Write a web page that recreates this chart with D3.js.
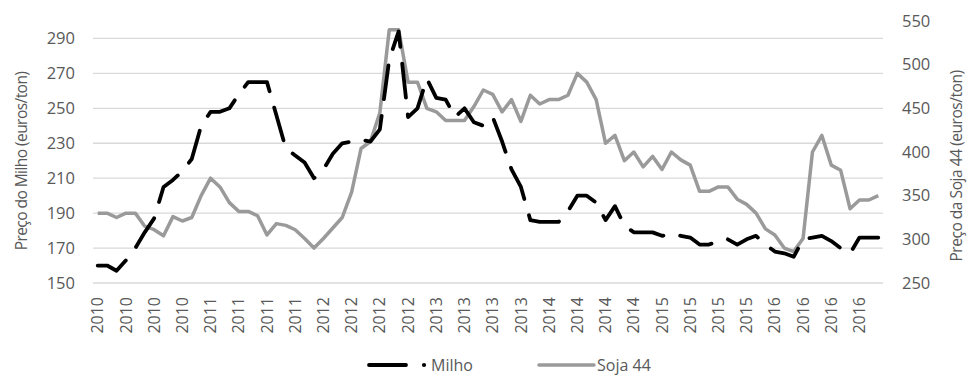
<!DOCTYPE html>
<html>
<head>
<meta charset="utf-8">
<script src="https://cdn.jsdelivr.net/npm/d3@7"></script>
<style>
  html, body { margin: 0; padding: 0; background: #fff; }
  svg { display: block; font-family: "Open Sans", "Noto Sans", sans-serif; }
</style>
</head>
<body>
<svg id="chart" width="968" height="376"></svg>
<script>
// Monthly prices, Jan 2010 – Dec 2016 (84 months)
const milho = [
  160, 160, 157, 163, 170, 179, 187, 205, 209, 214, 221, 240,
  248, 248, 250, 258, 265, 265, 265, 246, 227, 223, 219, 210,
  215, 224, 230, 231, 232, 231, 238, 278, 294, 245, 250, 267,
  256, 255, 245, 250, 242, 240, 245, 231, 215, 205, 186, 185,
  185, 185, 191, 200, 200, 196, 186, 194, 183, 179, 179, 179,
  177, 178, 177, 176, 172, 172, 174, 175, 172, 175, 177, 172,
  168, 167, 165, 175, 176, 177, 174, 170, 167, 176, 176, 176
];
const soja = [
  330, 330, 325, 330, 330, 315, 311, 304, 326, 321, 325, 350,
  370, 360, 342, 332, 332, 327, 305, 318, 316, 311, 301, 290,
  301, 313, 325, 354, 404, 412, 445, 540, 540, 480, 480, 450,
  446, 436, 436, 436, 452, 471, 466, 446, 460, 435, 465, 455,
  460, 460, 465, 490, 480, 460, 410, 419, 390, 400, 383, 395,
  380, 400, 391, 385, 355, 355, 360, 360, 346, 340, 330, 312,
  305, 290, 286, 301, 400, 419, 385, 379, 335, 345, 345, 350
];
// One label for every third month
const tickLabels = [
  "2010", "2010", "2010", "2010", "2011", "2011", "2011",
  "2011", "2012", "2012", "2012", "2012", "2013", "2013",
  "2013", "2013", "2014", "2014", "2014", "2014", "2015",
  "2015", "2015", "2015", "2016", "2016", "2016", "2016"
];
const leftTicks = [150, 170, 190, 210, 230, 250, 270, 290];
const rightTicks = [250, 300, 350, 400, 450, 500, 550];
const seriesNames = ["Milho", "Soja 44"];
const leftTitle = "Preço do Milho (euros/ton)";
const rightTitle = "Preço da Soja 44 (euros/ton)";

const textColor = "#595959";
const gridColor = "#d9d9d9";
const milhoColor = "#000000";
const sojaColor = "#9a9a9a";
const milhoDash = "34,17";
const fontStack = "Open Sans, Noto Sans, sans-serif";

const svg = d3.select("#chart");
const plot = { left: 93, right: 883, top: 21, bottom: 283 };

const x = d3.scaleBand()
  .domain(d3.range(milho.length))
  .range([plot.left, plot.right]);
const cx = i => x(i) + x.bandwidth() / 2;

const yL = d3.scaleLinear().domain([150, 300]).range([plot.bottom, plot.top]);
const yR = d3.scaleLinear().domain([250, 550]).range([plot.bottom, plot.top]);

// Horizontal gridlines from the left axis
svg.append("g")
  .selectAll("line")
  .data(leftTicks)
  .join("line")
  .attr("x1", plot.left).attr("x2", plot.right)
  .attr("y1", d => yL(d)).attr("y2", d => yL(d))
  .attr("stroke", gridColor).attr("stroke-width", 1.3);

// Left axis
const axL = svg.append("g")
  .attr("transform", `translate(${plot.left - 18},0)`)
  .call(d3.axisLeft(yL).tickValues(leftTicks).tickSize(0).tickPadding(0));
axL.select(".domain").remove();
axL.selectAll("text")
  .attr("fill", textColor).attr("font-size", 16.5)
  .attr("font-family", fontStack);

// Right axis
const axR = svg.append("g")
  .attr("transform", `translate(${plot.right + 19},0)`)
  .call(d3.axisRight(yR).tickValues(rightTicks).tickSize(0).tickPadding(0));
axR.select(".domain").remove();
axR.selectAll("text")
  .attr("fill", textColor).attr("font-size", 16.5)
  .attr("font-family", fontStack);

// Bottom axis: year labels every third month, rotated
const axB = svg.append("g")
  .attr("transform", `translate(0,${plot.bottom})`)
  .call(d3.axisBottom(x)
    .tickValues(d3.range(0, milho.length, 3))
    .tickFormat(i => tickLabels[i / 3])
    .tickSize(0).tickPadding(0));
axB.select(".domain").remove();
axB.selectAll("text")
  .attr("fill", textColor).attr("font-size", 16)
  .attr("font-family", fontStack)
  .attr("transform", "rotate(-90)")
  .attr("x", -14).attr("y", 0).attr("dy", "0.35em")
  .attr("text-anchor", "end");

// Axis titles
svg.append("text")
  .attr("transform", "translate(22,161) rotate(-90)")
  .attr("text-anchor", "middle").attr("dy", "0.35em")
  .attr("fill", textColor).attr("font-size", 15.5)
  .attr("letter-spacing", -0.55)
  .text(leftTitle);
svg.append("text")
  .attr("transform", "translate(957,166) rotate(-90)")
  .attr("text-anchor", "middle").attr("dy", "0.35em")
  .attr("fill", textColor).attr("font-size", 15.5)
  .attr("letter-spacing", -0.45)
  .text(rightTitle);

// Series lines
const lineL = d3.line().x((d, i) => cx(i)).y(d => yL(d));
const lineR = d3.line().x((d, i) => cx(i)).y(d => yR(d));

svg.append("path")
  .datum(soja)
  .attr("d", lineR)
  .attr("fill", "none")
  .attr("stroke", sojaColor).attr("stroke-width", 3.5)
  .attr("stroke-linejoin", "round");

svg.append("path")
  .datum(milho)
  .attr("d", lineL)
  .attr("fill", "none")
  .attr("stroke", milhoColor).attr("stroke-width", 3.8)
  .attr("stroke-linejoin", "round")
  .attr("stroke-linecap", "round")
  .attr("stroke-dasharray", milhoDash);

// Legend
const lg = svg.append("g").attr("transform", "translate(0,365)");
lg.append("line")
  .attr("x1", 369).attr("x2", 406).attr("y1", 0).attr("y2", 0)
  .attr("stroke", milhoColor).attr("stroke-width", 3.8)
  .attr("stroke-linecap", "round");
lg.append("circle").attr("cx", 424).attr("cy", 0).attr("r", 2.1).attr("fill", milhoColor);
lg.append("text")
  .attr("x", 431).attr("y", 0).attr("dy", "0.35em")
  .attr("fill", textColor).attr("font-size", 16)
  .text(seriesNames[0]);
lg.append("line")
  .attr("x1", 539).attr("x2", 594).attr("y1", 0).attr("y2", 0)
  .attr("stroke", sojaColor).attr("stroke-width", 3.5)
  .attr("stroke-linecap", "round");
lg.append("text")
  .attr("x", 597).attr("y", 0).attr("dy", "0.35em")
  .attr("fill", textColor).attr("font-size", 16)
  .text(seriesNames[1]);
</script>
</body>
</html>
